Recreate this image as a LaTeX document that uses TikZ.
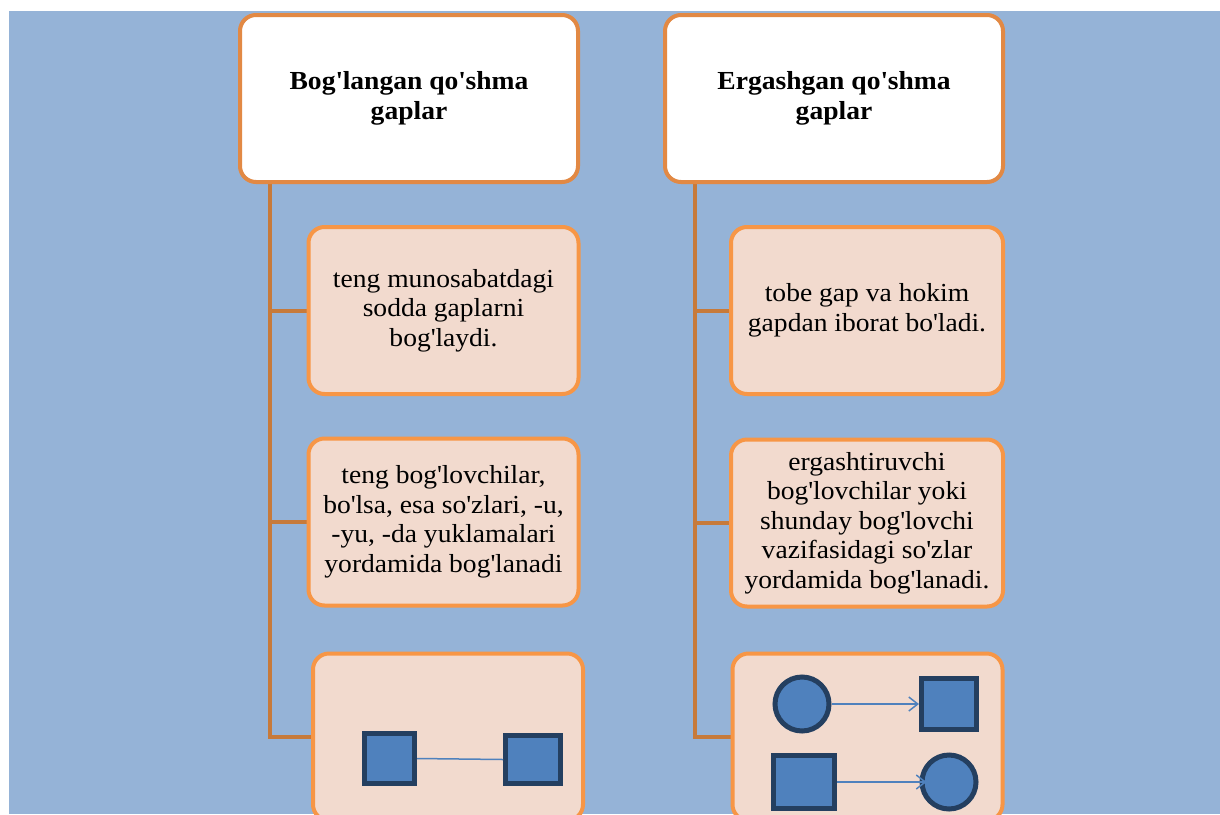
\documentclass[tikz,border=0pt]{standalone}
\usepackage{fontspec}
\setmainfont{Liberation Serif}[FakeStretch=1.06]
\usetikzlibrary{arrows.meta,backgrounds}
\newcommand{\myap}{\textquotesingle}
\definecolor{bgblue}{HTML}{95B3D7}
\definecolor{hdborder}{HTML}{E28944}
\definecolor{chborder}{HTML}{F79646}
\definecolor{chfill}{HTML}{F2DACE}
\definecolor{connc}{HTML}{C77A3A}
\definecolor{shfill}{HTML}{4F81BD}
\definecolor{shdraw}{HTML}{243F60}
\tikzset{
  txt/.style={font=\fontsize{26}{29.5}\selectfont, align=center, text=black},
  header/.style={txt, draw=hdborder, line width=4pt, fill=white, rounded corners=16pt,
    minimum width=338pt, minimum height=167pt, inner sep=0pt, font=\fontsize{26}{30}\selectfont\bfseries},
  child/.style={txt, draw=chborder, line width=4pt, fill=chfill, rounded corners=16pt,
    minimum width=270pt, minimum height=167pt, inner sep=0pt},
  conn/.style={draw=connc, line width=4pt},
  sq/.style={rectangle, draw=shdraw, fill=shfill, line width=5pt, inner sep=0pt},
  circ/.style={circle, draw=shdraw, fill=shfill, line width=5pt, inner sep=0pt, minimum size=54pt},
  link/.style={draw=shfill, line width=1.5pt},
  arr/.style={link, -{Straight Barb[length=9pt,width=14pt]}}
}
\begin{document}
\begin{tikzpicture}[x=1pt,y=-1pt]
\useasboundingbox (0,0) rectangle (1220,814);
% headers
\node[header] (h1) at (409,98.5) {Bog\myap langan qo\myap shma\\gaplar};
\node[header] (h2) at (834,98.5) {Ergashgan qo\myap shma\\gaplar};
% left children
\node[child] (l1) at (443.5,310.5) {teng munosabatdagi\\sodda gaplarni\\bog\myap laydi.};
\node[child] (l2) at (443.5,522) {teng bog\myap lovchilar,\\bo\myap lsa, esa so\myap zlari, -u,\\-yu, -da yuklamalari\\yordamida bog\myap lanadi};
\node[child] (l3) at (448,737) {};
% right children
\node[child, minimum width=272pt] (r1) at (867,310.5) {tobe gap va hokim\\gapdan iborat bo\myap ladi.};
\node[child, minimum width=272pt] (r2) at (867,523) {ergashtiruvchi\\bog\myap lovchilar yoki\\shunday bog\myap lovchi\\vazifasidagi so\myap zlar\\yordamida bog\myap lanadi.};
\node[child, minimum width=270pt] (r3) at (867.5,737) {};
% shapes in left bottom box
\node[sq, minimum width=50pt, minimum height=50pt] (ls1) at (389.5,758.5) {};
\node[sq, minimum width=55pt, minimum height=48pt] (ls2) at (533,759.5) {};
\draw[link] (ls1.east) -- (ls2.west);
% shapes in right bottom box
\node[circ] (rc1) at (802,704) {};
\node[sq, minimum width=55pt, minimum height=51pt] (rs1) at (949,704) {};
\node[sq, minimum width=61pt, minimum height=53pt] (rs2) at (804,782) {};
\node[circ] (rc2) at (949,782) {};
\draw[arr] (rc1.east) -- (rs1.west);
\draw[arr, shorten >=-7pt] (rs2.east) -- (rc2.west);
% background and connectors
\begin{scope}[on background layer]
\fill[white] (0,0) rectangle (1220,814);
\fill[bgblue] (9,11) rectangle (1220,814);
\draw[conn] ([xshift=32pt]h1.south west) |- (l3.west);
\draw[conn] ([xshift=32pt]h1.south west) |- (l1.west);
\draw[conn] ([xshift=32pt]h1.south west) |- (l2.west);
\draw[conn] ([xshift=32pt]h2.south west) |- (r3.west);
\draw[conn] ([xshift=32pt]h2.south west) |- (r1.west);
\draw[conn] ([xshift=32pt]h2.south west) |- (r2.west);
\end{scope}
\end{tikzpicture}
\end{document}
